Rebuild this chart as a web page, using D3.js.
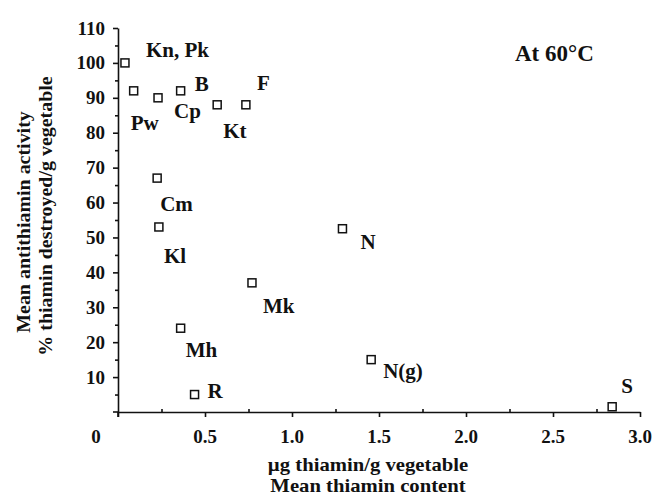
<!DOCTYPE html>
<html>
<head>
<meta charset="utf-8">
<script src="https://cdn.jsdelivr.net/npm/d3@7/dist/d3.min.js"></script>
<style>
  body { margin: 0; background: #fff; }
  text { font-family: "Liberation Serif", "Times New Roman", serif; font-weight: bold; fill: #111; }
</style>
</head>
<body>
<div id="scatter"></div>
<script>
// Antithiamin activity vs thiamin content of vegetables, at 60°C

// Data

let vegetables = ["Kn, Pk", "Pw", "Cp", "B", "Kt", "F", "Cm", "Kl", "Mk", "Mh", "R", "N", "N(g)", "S"];
let thiaminContent = [0.04, 0.09, 0.23, 0.36, 0.57, 0.735, 0.225, 0.235, 0.77, 0.36, 0.44, 1.29, 1.455, 2.84];
let antithiaminActivity = [100, 92, 90, 92, 88, 88, 67, 53, 37, 24, 5, 52.5, 15, 1.5];

let xTicks = [0, 0.5, 1.0, 1.5, 2.0, 2.5, 3.0];
let xMinorTicks = [0.25, 0.75, 1.25, 1.75, 2.25, 2.75];
let yTicks = [10, 20, 30, 40, 50, 60, 70, 80, 90, 100, 110];
let yMinorTicks = [5, 15, 25, 35, 45, 55, 65, 75, 85, 95, 105];

// Where each code sits relative to its square (px)
let labelOffsets = {
    "Kn, Pk": [21, -6], "Pw": [-3, 39], "Cp": [16, 20], "B": [14, 0],
    "Kt": [6, 33], "F": [11, -15], "Cm": [3, 33], "Kl": [5, 36],
    "Mk": [11, 30], "Mh": [5, 29], "R": [13, 3], "N": [18, 20],
    "N(g)": [12, 18], "S": [9, -14]
};

// SVG size & margins

let svgWidth = 653;
let svgHeight = 499;

let margin = {
    top: 28,
    right: 13,
    left: 118,
    bottom: 87
};

let chartWidth = svgWidth - margin.left - margin.right;
let chartHeight = svgHeight - margin.top - margin.bottom;

let svg = d3.select("#scatter")
    .append("svg")
    .attr("width", svgWidth)
    .attr("height", svgHeight);

let chartGroup = svg.append("g")
    .attr("transform", `translate(${margin.left}, ${margin.top})`);

// sx stretches the type sideways (the scanned titles are wide and tight)
function addText(parent, x, y, str, size, anchor, rotate, sx) {
    return parent.append("text")
        .attr("transform", `translate(${x},${y})` + (rotate ? ` rotate(${rotate})` : "") + (sx ? ` scale(${sx},1)` : ""))
        .attr("text-anchor", anchor || "start")
        .style("font-size", size + "px")
        .text(str);
}

// Scales

let xLinearScale = d3.scaleLinear().domain([0, 3]).range([0, chartWidth]);
let yLinearScale = d3.scaleLinear().domain([0, 110]).range([chartHeight, 0]);

// Axes: major ticks, then minor ticks

let bottomAxis = d3.axisBottom(xLinearScale)
    .tickValues(xTicks)
    .tickSize(5)
    .tickSizeOuter(0)
    .tickFormat("");

let leftAxis = d3.axisLeft(yLinearScale)
    .tickValues(yTicks)
    .tickSize(5)
    .tickSizeOuter(0)
    .tickFormat("");

chartGroup.append("g")
    .attr("transform", `translate(0, ${chartHeight})`)
    .call(bottomAxis);

chartGroup.append("g")
    .call(leftAxis);

chartGroup.append("g")
    .attr("transform", `translate(0, ${chartHeight})`)
    .call(d3.axisBottom(xLinearScale).tickValues(xMinorTicks).tickSize(-3).tickFormat(""))
    .select(".domain").remove();

chartGroup.append("g")
    .call(d3.axisLeft(yLinearScale).tickValues(yMinorTicks).tickSize(3).tickFormat(""))
    .select(".domain").remove();

chartGroup.selectAll(".domain, .tick line")
    .attr("stroke", "#111")
    .attr("stroke-width", 1.6);

// Axis lines poke out a little past the origin
chartGroup.append("line")
    .attr("x1", -5).attr("x2", 0)
    .attr("y1", chartHeight).attr("y2", chartHeight)
    .attr("stroke", "#111").attr("stroke-width", 1.6);
chartGroup.append("line")
    .attr("x1", 0).attr("x2", 0)
    .attr("y1", chartHeight).attr("y2", chartHeight + 5)
    .attr("stroke", "#111").attr("stroke-width", 1.6);

// Tick labels

xTicks.forEach(function(t) {
    let label = t === 0 ? "0" : d3.format(".1f")(t);
    let x = t === 0 ? xLinearScale(t) - 22 : xLinearScale(t);
    addText(chartGroup, x, chartHeight + 31, label, 19, "middle");
});

yTicks.forEach(function(t) {
    addText(chartGroup, -13, yLinearScale(t) + 6.5, String(t), 19, "end");
});

// Points

chartGroup.selectAll("rect.point")
    .data(vegetables)
    .enter()
    .append("rect")
    .attr("class", "point")
    .attr("x", (d, i) => xLinearScale(thiaminContent[i]) - 4)
    .attr("y", (d, i) => yLinearScale(antithiaminActivity[i]) - 4)
    .attr("width", 8)
    .attr("height", 8)
    .attr("fill", "white")
    .attr("stroke", "#111")
    .attr("stroke-width", 1.5);

// Point labels

vegetables.forEach(function(name, i) {
    let off = labelOffsets[name];
    addText(chartGroup,
        xLinearScale(thiaminContent[i]) + off[0],
        yLinearScale(antithiaminActivity[i]) + off[1],
        name, 21);
});

// Panel note

addText(svg, 515, 61, "At 60°C", 23);

// Axis titles

addText(svg, 368, 471, "µg thiamin/g vegetable", 18, "middle", 0, 1.15);
addText(svg, 368, 492, "Mean thiamin content", 18, "middle", 0, 1.15);

addText(svg, 30, 222, "Mean antithiamin activity", 19, "middle", -90, 1.05);
addText(svg, 52, 216, "% thiamin destroyed/g vegetable", 19, "middle", -90, 1.05);
</script>
</body>
</html>
